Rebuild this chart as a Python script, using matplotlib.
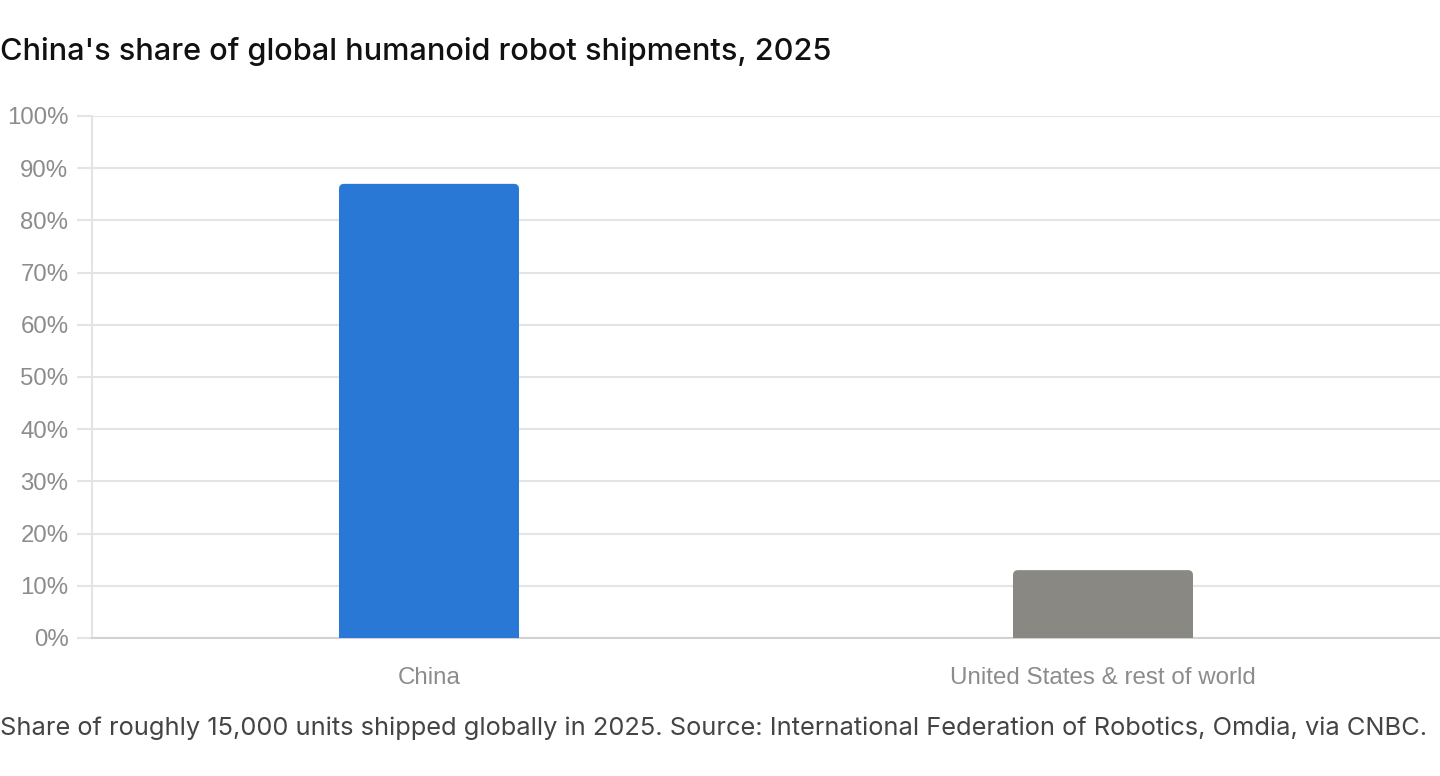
import matplotlib
matplotlib.use("Agg")
import matplotlib.pyplot as plt
from matplotlib.ticker import FuncFormatter, MultipleLocator
from matplotlib.patches import FancyBboxPatch

categories = ["China", "United States & rest of world"]
shares = [87, 13]
bar_colors = ["#2a78d6", "#8a8883"]
title = "China's share of global humanoid robot shipments, 2025"
caption = ("Share of roughly 15,000 units shipped globally in 2025. Source: "
           "International Federation of Robotics, Omdia, via CNBC.")

W, H = 1440, 776
fig = plt.figure(figsize=(W / 100, H / 100), dpi=100)
ax = fig.add_axes([92 / W, 1 - 638 / H, 1 - 92 / W, (638 - 116) / H])

x = list(range(len(categories)))
bars = ax.bar(x, shares, width=0.267, color=bar_colors, zorder=3)

ax.set_xlim(-0.5, len(categories) - 0.5)
ax.set_ylim(0, 100)

# rounded top corners (radius ~5 px)
bbox = ax.get_window_extent()
px_x = (ax.get_xlim()[1] - ax.get_xlim()[0]) / bbox.width
px_y = (ax.get_ylim()[1] - ax.get_ylim()[0]) / bbox.height
r_px = 5
for p in bars:
    x0, y0 = p.get_x(), p.get_y()
    w, h = p.get_width(), p.get_height()
    fb = FancyBboxPatch((x0, y0), w, h,
                        boxstyle=f"round,pad=0,rounding_size={r_px * px_x}",
                        mutation_aspect=px_y / px_x,
                        facecolor=p.get_facecolor(), edgecolor="none", zorder=3)
    ax.add_patch(fb)
    p.set_height(h - 2 * r_px * px_y)

ax.yaxis.set_major_locator(MultipleLocator(10))
ax.yaxis.set_major_formatter(FuncFormatter(lambda v, p: f"{int(v)}%"))
ax.set_xticks(x)
ax.set_xticklabels(categories)

grid_c = "#e4e4e4"
ax.grid(axis="y", color=grid_c, linewidth=1.5, zorder=0)
ax.tick_params(axis="y", length=11, width=1.5, color=grid_c, pad=6,
               labelsize=17.3, labelcolor="#8c8c8c")
ax.tick_params(axis="x", length=0, pad=21, labelsize=17.4, labelcolor="#8c8c8c")
for lab in ax.get_xticklabels() + ax.get_yticklabels():
    lab.set_fontfamily("Liberation Sans")
for s in ["top", "right"]:
    ax.spines[s].set_visible(False)
ax.spines["left"].set_color(grid_c)
ax.spines["left"].set_linewidth(1.5)
ax.spines["bottom"].set_color("#d2d2d2")
ax.spines["bottom"].set_linewidth(1.5)

fig.text(0 / W, 1 - 51 / H, title, fontsize=22.1, color="#111111",
         family="Inter", weight="medium", va="center", ha="left")
fig.text(0 / W, 1 - 728 / H, caption, fontsize=18.3, color="#444444",
         family="Inter", va="center", ha="left")

fig.savefig("out.png", dpi=100)
